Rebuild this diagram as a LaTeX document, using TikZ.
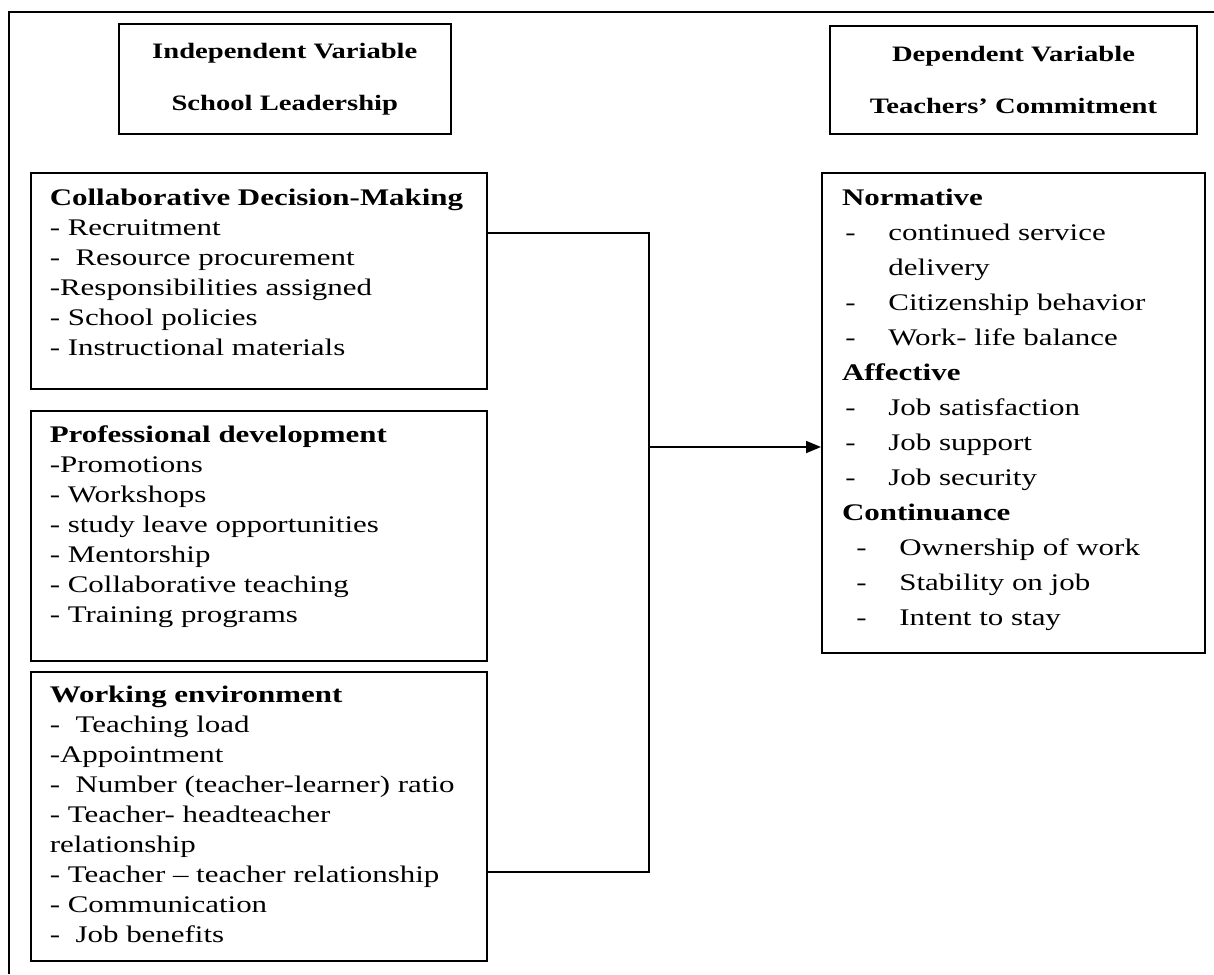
\documentclass[tikz,border=0pt]{standalone}
\usepackage{fontspec}
\setmainfont{Liberation Serif}[FakeStretch=1.3]
\usetikzlibrary{arrows.meta}
\newcommand{\dashitem}[1]{\hspace*{1.7pt}\makebox[21.5pt][l]{-}#1}
\newcommand{\dashitemb}[1]{\hspace*{7.2pt}\makebox[21.5pt][l]{-}#1}

\begin{document}
\begin{tikzpicture}[x=0.5pt, y=-0.5pt, >={Triangle[length=7.5pt,width=6pt]},
  box/.style={draw, line width=1.1pt, inner sep=0pt},
  head/.style={box, align=center, font=\bfseries\fontsize{11pt}{26pt}\selectfont},
  list/.style={anchor=north west, align=left, inner sep=0pt, font=\fontsize{11.9pt}{15pt}\selectfont},
  link/.style={line width=0.9pt}]
\useasboundingbox (0,0) rectangle (1214,974);
% outer frame, cut off at right and bottom
\draw[line width=1pt] (8.7,974) -- (8.7,12) -- (1214,12);

% variable headings
\node[head, minimum width=166.2pt, minimum height=55pt] (iv) at (284.8,79) {Independent Variable\\School Leadership};
\node[head, minimum width=183.5pt, minimum height=54pt] (dv) at (1013.5,80) {Dependent Variable\\Teachers' Commitment};

% boxes
\node[box, anchor=north west, minimum width=228pt, minimum height=108pt] (cdm) at (29.6,172) {};
\node[box, anchor=north west, minimum width=228pt, minimum height=125.25pt] (pd) at (29.6,409.5) {};
\node[box, anchor=north west, minimum width=228pt, minimum height=144.25pt] (we) at (29.6,671) {};
\node[box, anchor=north west, minimum width=191.5pt, minimum height=240pt] (nrm) at (821,172) {};

% box texts
\node[list] (cdmtxt) at (49.4,189) {\textbf{Collaborative Decision-Making}\\- Recruitment\\-~ Resource procurement\\-Responsibilities assigned\\- School policies\\- Instructional materials};
\node[list] (pdtxt) at (49.4,425) {\textbf{Professional development}\\-Promotions\\- Workshops\\- study leave opportunities\\- Mentorship\\- Collaborative teaching\\- Training programs};
\node[list] (wetxt) at (49.4,686) {\textbf{Working environment}\\-~ Teaching load\\-Appointment\\-~ Number (teacher-learner) ratio\\- Teacher- headteacher\\relationship\\- Teacher -- teacher relationship\\- Communication\\-~ Job benefits};
\node[list, font=\fontsize{11.9pt}{17.5pt}\selectfont] (nrmtxt) at (841.6,189) {\textbf{Normative}\\\dashitem{continued service}\\\hspace*{23.2pt}delivery\\\dashitem{Citizenship behavior}\\\dashitem{Work- life balance}\\\textbf{Affective}\\\dashitem{Job satisfaction}\\\dashitem{Job support}\\\dashitem{Job security}\\\textbf{Continuance}\\\dashitemb{Ownership of work}\\\dashitemb{Stability on job}\\\dashitemb{Intent to stay}};

% connectors
\coordinate (top) at (649,233);
\coordinate (mid) at (649,447);
\coordinate (bot) at (649,872);
\draw[link] (top -| cdm.east) -- (top) -- (bot) -- (bot -| we.east);
\draw[link,->] (mid) -- (mid -| nrm.west);
\end{tikzpicture}
\end{document}
